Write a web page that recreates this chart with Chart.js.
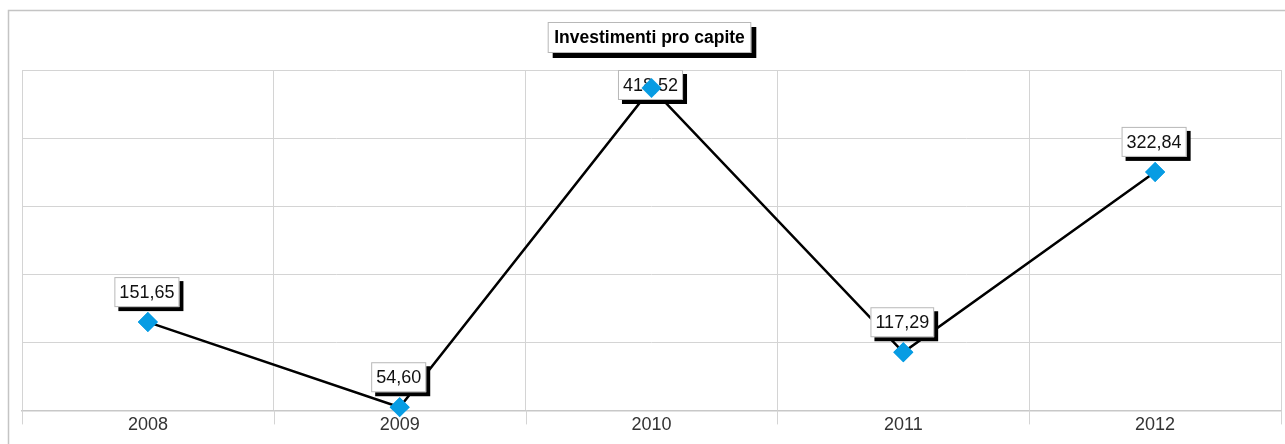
<!DOCTYPE html>
<html>
<head>
<meta charset="utf-8">
<script src="https://cdn.jsdelivr.net/npm/chart.js@4"></script>
<style>
  html, body { margin: 0; padding: 0; background: #fff; overflow: hidden; }
  canvas { display: block; }
</style>
</head>
<body>
<canvas id="chart" width="1285" height="444"></canvas>
<script>
// DATA
const TITLE = "Investimenti pro capite";
const years = ["2008", "2009", "2010", "2011", "2012"];
const values = [151.65, 54.60, 418.52, 117.29, 322.84];
const valueLabels = ["151,65", "54,60", "418,52", "117,29", "322,84"];

const FONT = "'Liberation Sans', Arial, sans-serif";
const GRID = "#d4d4d4";

// outer frame (top + left only, like the original)
const framePlugin = {
  id: "frame",
  beforeDraw(chart) {
    const ctx = chart.ctx;
    ctx.save();
    ctx.strokeStyle = "#c4c4c4";
    ctx.lineWidth = 1.5;
    ctx.beginPath();
    ctx.moveTo(8.5, 444);
    ctx.lineTo(8.5, 10.5);
    ctx.lineTo(1285, 10.5);
    ctx.stroke();
    ctx.restore();
  }
};

// category boundary tick marks below the x axis
const tickMarkPlugin = {
  id: "tickMarks",
  afterDraw(chart) {
    const x = chart.scales.x;
    const ctx = chart.ctx;
    const half = (x.getPixelForTick(1) - x.getPixelForTick(0)) / 2;
    ctx.save();
    ctx.strokeStyle = GRID;
    ctx.lineWidth = 1;
    ctx.beginPath();
    for (let i = 0; i <= years.length; i++) {
      const px = Math.round(x.getPixelForTick(0) - half + i * half * 2) + 0.5;
      ctx.moveTo(px, x.top);
      ctx.lineTo(px, x.top + 14);
    }
    ctx.stroke();
    ctx.restore();
  }
};

// box with black drop shadow
function shadowBox(ctx, x, y, w, h, off) {
  ctx.fillStyle = "#000";
  ctx.fillRect(x + off, y + off, w, h);
  ctx.fillStyle = "#fff";
  ctx.fillRect(x, y, w, h);
  ctx.strokeStyle = "#b8b8b8";
  ctx.lineWidth = 1;
  ctx.strokeRect(x + 0.5, y + 0.5, w - 1, h - 1);
}

const titlePlugin = {
  id: "boxTitle",
  afterDraw(chart) {
    const ctx = chart.ctx;
    const area = chart.chartArea;
    ctx.save();
    ctx.font = "bold 17.5px " + FONT;
    const w = ctx.measureText(TITLE).width + 13;
    const h = 31;
    const cx = (area.left + area.right) / 2 - 2;
    const x = cx - w / 2, y = 22;
    shadowBox(ctx, x, y, w, h, 5);
    ctx.fillStyle = "#000";
    ctx.textAlign = "center";
    ctx.textBaseline = "middle";
    ctx.fillText(TITLE, cx, y + h / 2 + 1);
    ctx.restore();
  }
};

// value labels drawn over the line but under the markers
const labelPlugin = {
  id: "valueLabels",
  afterDatasetsDraw(chart) {
    const ctx = chart.ctx;
    const area = chart.chartArea;
    const meta = chart.getDatasetMeta(0);
    ctx.save();
    ctx.font = "18px " + FONT;
    meta.data.forEach((pt, i) => {
      const txt = valueLabels[i];
      const w = ctx.measureText(txt).width + 10;
      const h = 30;
      const cx = pt.x - 1;
      let y = pt.y - 15 - h;
      if (y < area.top) y = area.top;
      shadowBox(ctx, cx - w / 2, y, w, h, 4);
      ctx.fillStyle = "#111";
      ctx.textAlign = "center";
      ctx.textBaseline = "middle";
      ctx.fillText(txt, cx, y + h / 2 + 1);
    });
    ctx.restore();
    // markers on top
    meta.data.forEach(pt => pt.draw(ctx, area));
  }
};

new Chart(document.getElementById("chart"), {
  type: "line",
  data: {
    labels: years,
    datasets: [{
      data: values,
      borderColor: "#000",
      borderWidth: 2.5,
      tension: 0,
      pointStyle: "rectRot",
      pointRadius: 10,
      pointBackgroundColor: "#079ce3",
      pointBorderColor: "#079ce3",
      pointBorderWidth: 0
    }]
  },
  options: {
    responsive: false,
    animation: false,
    devicePixelRatio: 1,
    layout: { autoPadding: false, padding: { left: 22, right: 4, top: 70, bottom: 4 } },
    plugins: {
      legend: { display: false },
      title: { display: false },
      tooltip: { enabled: false }
    },
    scales: {
      x: {
        offset: true,
        grid: { offset: true, color: GRID, lineWidth: 1, drawTicks: false },
        border: { color: "#c8c8c8", width: 1.5 },
        ticks: { color: "#333", font: { family: FONT, size: 18 }, padding: 4 }
      },
      y: {
        min: 51,
        max: 439,
        grid: { color: GRID, lineWidth: 1, drawTicks: false },
        border: { display: false },
        ticks: { display: false, stepSize: 77.6 }
      }
    }
  },
  plugins: [framePlugin, tickMarkPlugin, titlePlugin, labelPlugin]
});
</script>
</body>
</html>
